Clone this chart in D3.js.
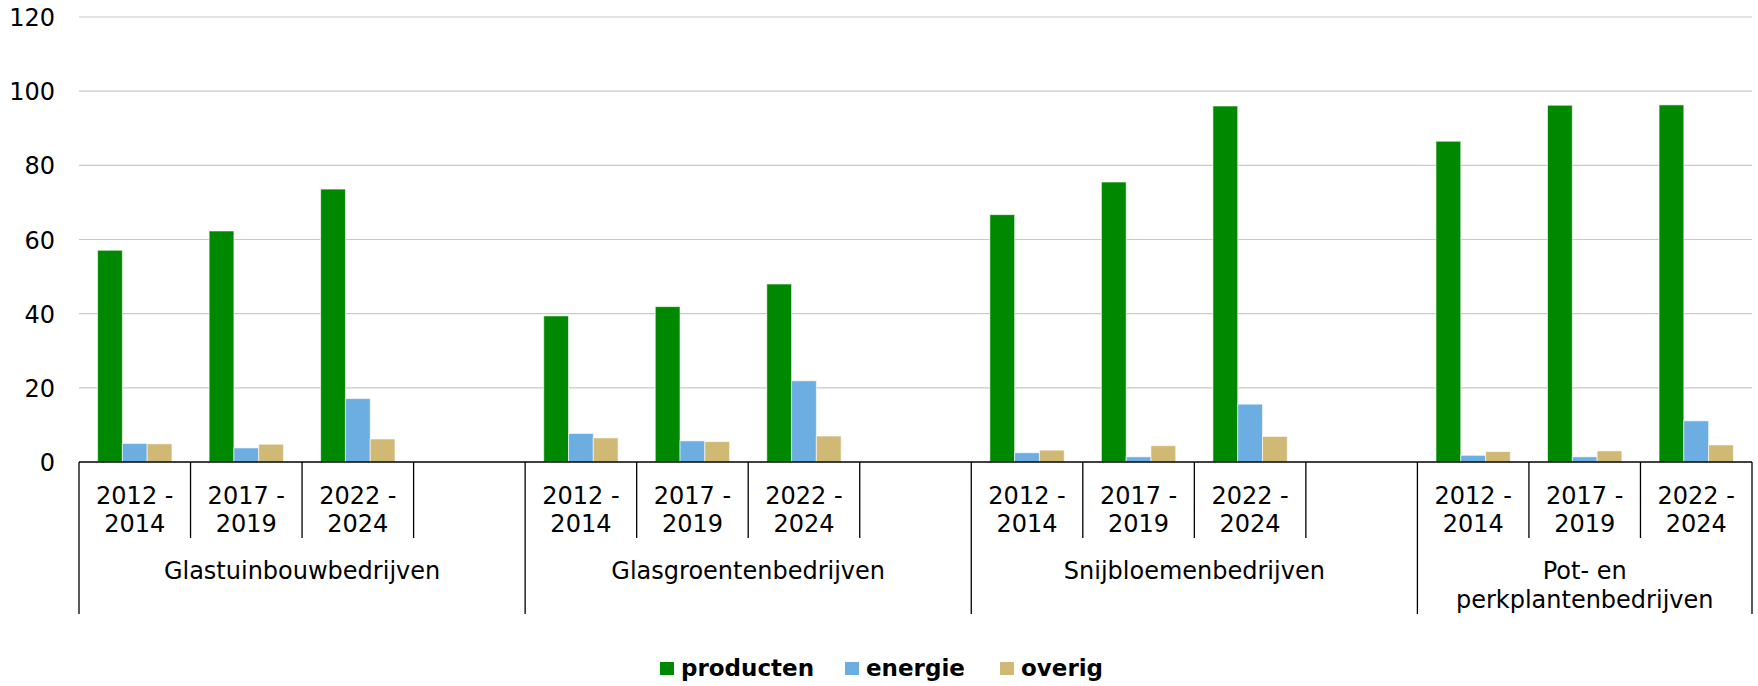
<!DOCTYPE html>
<html>
<head>
<meta charset="utf-8">
<script src="https://cdn.jsdelivr.net/npm/d3@7"></script>
<style>
  body { margin: 0; background: #fff; }
  text { font-family: "DejaVu Sans", Verdana, sans-serif; fill: #000; }
</style>
</head>
<body>
<div id="chart"></div>
<script>
var width = 1758, height = 686;

// data
var groups = ["Glastuinbouwbedrijven", "Glasgroentenbedrijven", "Snijbloemenbedrijven", "Pot- en perkplantenbedrijven"];
var periods = ["2012 - 2014", "2017 - 2019", "2022 - 2024"];
var seriesNames = ["producten", "energie", "overig"];
var producten = [57.1, 62.3, 73.6, 39.4, 41.9, 48.0, 66.7, 75.5, 96.0, 86.5, 96.2, 96.3];
var energie = [5.0, 3.8, 17.1, 7.7, 5.7, 21.9, 2.5, 1.4, 15.6, 1.8, 1.4, 11.1];
var overig = [4.9, 4.8, 6.2, 6.5, 5.5, 7.0, 3.2, 4.4, 6.9, 2.8, 3.0, 4.6];
var yTicks = [0, 20, 40, 60, 80, 100, 120];
var colors = ["#008800", "#6cade2", "#d0b974"];

var margin = {top: 17, right: 6, bottom: 224, left: 79};
var plotW = width - margin.left - margin.right,
    plotH = height - margin.top - margin.bottom;

// slots: each group gets its periods plus one empty spacer slot (not after the last group)
var slots = [];
groups.forEach(function (g, gi) {
    periods.forEach(function (p, pi) {
        slots.push({key: gi + "-" + pi, group: gi, period: p, idx: gi * periods.length + pi});
    });
    if (gi < groups.length - 1) slots.push({key: gi + "-blank", group: gi, period: "", idx: -1});
});

var svg = d3.select("#chart").append("svg")
    .attr("width", width)
    .attr("height", height);

var g = svg.append("g").attr("transform", "translate(" + margin.left + "," + margin.top + ")");

var x = d3.scaleBand().domain(slots.map(function (d) { return d.key; })).range([0, plotW]).padding(0);
var y = d3.scaleLinear().domain([0, 120]).range([plotH, 0]);

var barW = x.bandwidth() / 4.5;
var xs = d3.scaleBand().domain(seriesNames).range([0, barW * 3]);
var offset = (x.bandwidth() - barW * 3) / 2;

// gridlines
g.append("g")
    .selectAll("line")
    .data(yTicks.filter(function (d) { return d > 0; }))
    .enter().append("line")
    .attr("x1", 0).attr("x2", plotW)
    .attr("y1", function (d) { return y(d); })
    .attr("y2", function (d) { return y(d); })
    .attr("stroke", "#c9c9c9")
    .attr("stroke-width", 1.2);

// y labels
var yAxis = d3.axisLeft(y).tickValues(yTicks).tickSize(0).tickPadding(24);
g.append("g").call(yAxis)
    .call(function (s) { s.select(".domain").remove(); })
    .selectAll("text")
    .style("font-size", "24px")
    .attr("dy", "0.36em");

// bars
var valuesBySeries = [producten, energie, overig];
var barData = [];
slots.forEach(function (s) {
    if (s.idx < 0) return;
    seriesNames.forEach(function (name, si) {
        barData.push({slot: s.key, series: name, color: colors[si], value: valuesBySeries[si][s.idx]});
    });
});

g.append("g")
    .selectAll("rect")
    .data(barData)
    .enter().append("rect")
    .attr("x", function (d) { return x(d.slot) + offset + xs(d.series); })
    .attr("width", xs.bandwidth())
    .attr("y", function (d) { return y(d.value); })
    .attr("height", function (d) { return y(0) - y(d.value); })
    .attr("fill", function (d) { return d.color; })
    .attr("stroke", "rgba(255,255,255,0.6)")
    .attr("stroke-width", 1);

// category axis
var axisG = g.append("g").attr("transform", "translate(0," + plotH + ")");
axisG.append("line")
    .attr("x1", 0).attr("x2", plotW)
    .attr("stroke", "#000").attr("stroke-width", 1.5);

// period separators
var periodLineLen = 76, groupLineLen = 152;
axisG.selectAll("line.period")
    .data(slots.slice(1))
    .enter().append("line")
    .attr("class", "period")
    .attr("x1", function (d) { return x(d.key); })
    .attr("x2", function (d) { return x(d.key); })
    .attr("y1", 0)
    .attr("y2", function (d, i) {
        var prev = slots[i];
        return prev.group !== d.group ? groupLineLen : periodLineLen;
    })
    .attr("stroke", "#000").attr("stroke-width", 1.3);

[0, plotW].forEach(function (px) {
    axisG.append("line")
        .attr("x1", px).attr("x2", px)
        .attr("y1", 0).attr("y2", groupLineLen)
        .attr("stroke", "#000").attr("stroke-width", 1.3);
});

function wrapText(sel, maxW, lineH) {
    sel.each(function () {
        var t = d3.select(this),
            words = t.text().split(/\s+/),
            xPos = t.attr("x"),
            line = [],
            tspan = t.text(null).append("tspan").attr("x", xPos).attr("dy", 0);
        words.forEach(function (w) {
            line.push(w);
            tspan.text(line.join(" "));
            if (tspan.node().getComputedTextLength() > maxW && line.length > 1) {
                line.pop();
                tspan.text(line.join(" "));
                line = [w];
                tspan = t.append("tspan").attr("x", xPos).attr("dy", lineH).text(w);
            }
        });
    });
}

axisG.selectAll("text.period")
    .data(slots.filter(function (d) { return d.period !== ""; }))
    .enter().append("text")
    .attr("class", "period")
    .attr("x", function (d) { return x(d.key) + x.bandwidth() / 2; })
    .attr("y", 41.5)
    .attr("text-anchor", "middle")
    .style("font-size", "24px")
    .text(function (d) { return d.period; })
    .call(wrapText, x.bandwidth() - 10, 28.3);

// group labels
var groupSpans = groups.map(function (name, gi) {
    var gs = slots.filter(function (s) { return s.group === gi; });
    var x0 = x(gs[0].key), x1 = x(gs[gs.length - 1].key) + x.bandwidth();
    return {name: name, x0: x0, x1: x1};
});

axisG.selectAll("text.group")
    .data(groupSpans)
    .enter().append("text")
    .attr("class", "group")
    .attr("x", function (d) { return (d.x0 + d.x1) / 2; })
    .attr("y", 117.3)
    .attr("text-anchor", "middle")
    .style("font-size", "24px")
    .text(function (d) { return d.name; })
    .each(function (d) {
        d3.select(this).call(wrapText, d.x1 - d.x0 - 20, 28.3);
    });

// legend
var legend = svg.append("g").attr("transform", "translate(660,662)");
var legX = [0, 185, 340];
seriesNames.forEach(function (name, i) {
    var item = legend.append("g").attr("transform", "translate(" + legX[i] + ",0)");
    item.append("rect")
        .attr("width", 14).attr("height", 13)
        .attr("fill", colors[i]);
    item.append("text")
        .attr("x", 21).attr("y", 14)
        .style("font-size", "23px")
        .style("font-weight", "bold")
        .text(name);
});
</script>
</body>
</html>
